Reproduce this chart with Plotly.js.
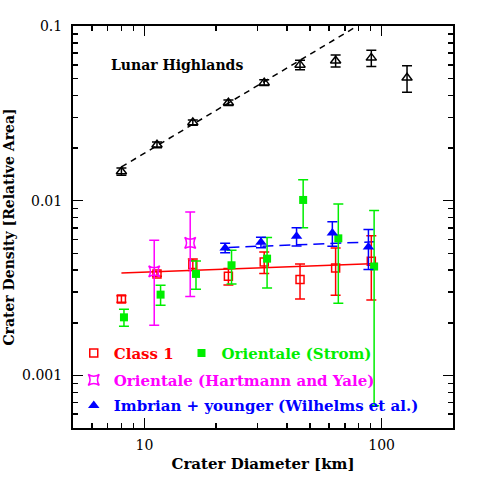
<!DOCTYPE html>
<html>
<head>
<meta charset="utf-8">
<script src="https://cdn.plot.ly/plotly-3.0.1.min.js"></script>
<style>
  html, body { margin: 0; padding: 0; background: #fff; }
  #grafico { width: 479px; height: 479px; }
</style>
</head>
<body>
<div id="grafico"></div>
<script>
// crater diameter (km) and relative area density

var hiD = [8, 11.3, 16, 22.6, 32, 45.3, 64, 90.5, 128];
var hiR = [0.0147, 0.0209, 0.0280, 0.0364, 0.0474, 0.0599, 0.0633, 0.0657, 0.0505];
var hiErr = [0.0007, 0.0008, 0.0010, 0.0013, 0.0018, 0.0037, 0.0050, 0.0070, 0.0087];
var hiFitD = [8, 79];
var hiFitR = [0.0156, 0.1];

var c1D = [8, 11.3, 16, 22.6, 32, 45.3, 64, 90.5];
var c1R = [0.00274, 0.00381, 0.00431, 0.00369, 0.00446, 0.00354, 0.00412, 0.00450];
var c1Err = [0.00012, 0.00012, 0.00033, 0.00040, 0.00063, 0.00080, 0.00124, 0.00180];
var c1FitD = [8, 96];
var c1FitR = [0.00386, 0.00437];

var stD = [8.2, 11.7, 16.5, 23.3, 32.9, 46.7, 65.7, 93];
var stR = [0.00215, 0.00290, 0.00381, 0.00427, 0.00466, 0.0101, 0.00609, 0.00420];
var stErrUp = [0.00024, 0.00038, 0.00070, 0.00093, 0.0015, 0.0031, 0.0035, 0.0046];
var stErrDn = [0.00024, 0.00038, 0.00070, 0.00093, 0.0015, 0.0031, 0.0035, 0.00353];

var hyD = [11.0, 15.6];
var hyR = [0.00394, 0.00573];
var hyErr = [0.0020, 0.0029];

var imD = [21.9, 31.0, 43.8, 62, 88];
var imR = [0.00537, 0.00578, 0.00625, 0.00654, 0.00544];
var imErr = [0.00033, 0.00040, 0.00074, 0.00105, 0.0014];
var imFitD = [22.6, 93];
var imFitR = [0.00540, 0.00582];

var xTicks = [10, 100];
var xMinor = [6, 7, 8, 9, 20, 30, 40, 50, 60, 70, 80, 90];
var yTicks = [0.001, 0.01, 0.1];
var yTickText = ['0.001', '0.01', '0.1'];
var yMinor = [0.0006, 0.0007, 0.0008, 0.0009, 0.002, 0.003, 0.004, 0.005, 0.006, 0.007, 0.008, 0.009,
              0.02, 0.03, 0.04, 0.05, 0.06, 0.07, 0.08, 0.09];

var fonte = 'DejaVu Serif';
var vermelho = '#ff0000', verde = '#00ee00', magenta = '#ff00ff', azul = '#0000ff';

function barras(arr, cor, arrMinus) {
    var e = {type: 'data', array: arr, color: cor, thickness: 1.5, width: 5};
    if (arrMinus) { e.symmetric = false; e.arrayminus = arrMinus; }
    return e;
}

var dados = [
    {x: hiFitD, y: hiFitR, mode: 'lines', line: {color: '#000', width: 1.5, dash: '6px,5px'}, showlegend: false},
    {x: hiD, y: hiR, mode: 'markers', marker: {symbol: 'triangle-up-open', size: 9, color: '#000', line: {width: 1.5}},
     error_y: barras(hiErr, '#000'), showlegend: false},

    {x: c1FitD, y: c1FitR, mode: 'lines', line: {color: vermelho, width: 1.5}, showlegend: false},
    {x: imFitD, y: imFitR, mode: 'lines', line: {color: azul, width: 1.5, dash: '11px,6px'}, showlegend: false},

    {x: c1D, y: c1R, mode: 'markers', name: 'Class 1', legend: 'legend',
     marker: {symbol: 'square-open', size: 8, color: vermelho, line: {width: 1.5}},
     error_y: barras(c1Err, vermelho)},
    {x: stD, y: stR, mode: 'markers', name: 'Orientale (Strom)', legend: 'legend2',
     marker: {symbol: 'square', size: 8, color: verde},
     error_y: barras(stErrUp, verde, stErrDn)},
    {x: hyD, y: hyR, mode: 'markers', name: 'Orientale (Hartmann and Yale)', legend: 'legend3',
     marker: {symbol: 'star-square-open', size: 10, color: magenta, line: {width: 1.5}},
     error_y: barras(hyErr, magenta)},
    {x: imD, y: imR, mode: 'markers', name: 'Imbrian + younger (Wilhelms et al.)', legend: 'legend4',
     marker: {symbol: 'triangle-up', size: 10, color: azul},
     error_y: barras(imErr, azul)}
];

function legenda(x, y, cor) {
    return {x: x, y: y, xanchor: 'left', yanchor: 'middle', bgcolor: 'rgba(0,0,0,0)',
            itemwidth: 30, font: {family: fonte, size: 15, color: cor, weight: 'bold'}};
}

var eixo = {
    type: 'log', showgrid: false, zeroline: false, showline: true, linecolor: '#000', linewidth: 2,
    mirror: 'ticks', ticks: 'inside', ticklen: 10, tickwidth: 1.5, tickcolor: '#000',
    tickfont: {family: fonte, size: 14, color: '#000'},
    minor: {ticks: 'inside', ticklen: 5, tickwidth: 1.5, tickcolor: '#000', showgrid: false}
};

var estilo = {
    width: 479, height: 479,
    margin: {l: 73, r: 26, t: 26, b: 51},
    paper_bgcolor: '#fff', plot_bgcolor: '#fff',
    font: {family: fonte, color: '#000'},
    xaxis: Object.assign({}, eixo, {
        range: [Math.log10(5), Math.log10(200)],
        tickmode: 'array', tickvals: xTicks, ticktext: ['10', '100'],
        minor: Object.assign({}, eixo.minor, {tickmode: 'array', tickvals: xMinor}),
        ticklabelstandoff: 3,
        title: {text: 'Crater Diameter [km]', font: {family: fonte, size: 15, weight: 'bold'}, standoff: 7}
    }),
    yaxis: Object.assign({}, eixo, {
        range: [Math.log10(0.0005), -1],
        tickmode: 'array', tickvals: yTicks, ticktext: yTickText,
        minor: Object.assign({}, eixo.minor, {tickmode: 'array', tickvals: yMinor}),
        ticklabelstandoff: 6,
        title: {text: 'Crater Density [Relative Area]', font: {family: fonte, size: 14, weight: 'bold'}, standoff: 4}
    }),
    legend: legenda(0.002, 0.186, vermelho),
    legend2: legenda(0.2855, 0.186, verde),
    legend3: legenda(0.002, 0.119, magenta),
    legend4: legenda(0.002, 0.0555, azul),
    annotations: [{
        xref: 'paper', yref: 'paper', x: 0.274, y: 0.903, xanchor: 'center', yanchor: 'middle',
        showarrow: false,
        text: 'Lunar Highlands', font: {family: fonte, size: 14, color: '#000', weight: 'bold'}
    }]
};

Plotly.newPlot('grafico', dados, estilo, {staticPlot: true});
</script>
</body>
</html>
